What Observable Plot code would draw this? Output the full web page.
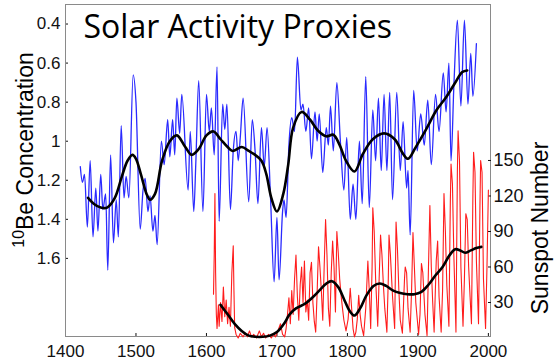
<!DOCTYPE html>
<html><head><meta charset="utf-8">
<script src="https://cdn.jsdelivr.net/npm/d3@7"></script>
<script src="https://cdn.jsdelivr.net/npm/@observablehq/plot@0.6"></script>
<style>
body{margin:0;background:#fff}
#wrap{position:relative;width:557px;height:360px;background:#fff}
#wrap svg{position:absolute;left:0;top:0}
</style></head><body><div id="wrap"></div>
<script>
// ---- data ----
const title = "Solar Activity Proxies";
const xTicks = [1400, 1500, 1600, 1700, 1800, 1900, 2000];
const beTicks = [0.4, 0.6, 0.8, 1, 1.2, 1.4, 1.6];
const ssTicks = [30, 60, 90, 120, 150];

const beYears = [1421,1424,1427,1431,1435,1439,1443,1446,1450,1453,1457,1460,1464,1468,1472,1475,1479,1483,1486,1490,1496,1500,1506,1510,1513,1517,1520,1524,1527,1530,1536,1540,1545,1548,1552,1555,1558,1562,1565,1574,1577,1582,1585,1589,1595,1600,1604,1607,1611,1615,1618,1623,1626,1629,1634,1638,1642,1645,1648,1652,1660,1665,1669,1673,1678,1682,1686,1691,1696,1700,1703,1708,1710,1713,1717,1721,1725,1729,1734,1737,1741,1745,1749,1754,1757,1760,1765,1770,1773,1776,1780,1785,1790,1795,1799,1804,1808,1812,1817,1821,1826,1831,1836,1840,1844,1848,1852,1856,1860,1864,1870,1875,1879,1884,1886,1889,1894,1899,1904,1909,1914,1919,1925,1930,1936,1940,1944,1947,1951,1956,1961,1966,1971,1975,1978,1983];
const beValues = [1.13,1.21,1.17,1.44,1.10,1.49,1.24,1.46,1.17,1.35,1.27,1.66,1.07,1.52,1.30,1.49,0.92,1.29,1.18,1.29,0.66,0.80,1.45,1.25,1.19,1.36,1.28,1.46,1.38,1.53,1.00,1.12,0.89,1.08,0.89,1.07,0.78,0.96,0.76,1.25,0.95,1.36,1.10,0.69,1.36,0.76,0.95,0.83,1.07,0.62,1.41,0.81,0.94,0.81,1.35,1.05,0.95,1.10,0.98,0.78,1.31,0.89,1.05,1.32,0.93,1.13,0.93,1.30,1.72,1.39,1.71,1.36,1.30,1.39,1.02,0.88,0.95,0.57,0.84,0.81,0.95,0.83,1.09,0.85,1.00,0.86,1.16,0.93,1.02,0.82,1.05,0.70,1.00,1.25,0.98,1.40,1.22,1.40,1.00,1.32,0.67,1.34,0.84,1.10,0.78,1.15,0.76,1.15,0.75,1.30,0.75,1.15,0.90,1.24,1.15,1.48,0.74,1.05,0.86,1.02,0.79,1.12,0.76,0.95,0.65,0.85,0.60,1.10,0.72,0.38,0.82,0.38,0.81,0.55,0.77,0.50];

const beSmoothYears = [1432,1440,1450,1459,1470,1480,1488,1495,1500,1507,1515,1520,1527,1537,1548,1558,1570,1579,1589,1600,1610,1620,1630,1637,1650,1660,1667,1678,1685,1692,1700,1709,1716,1723,1735,1747,1758,1770,1780,1789,1798,1810,1822,1836,1852,1867,1879,1886,1897,1912,1926,1940,1952,1963,1970];
const beSmoothValues = [1.29,1.32,1.34,1.34,1.29,1.18,1.10,1.07,1.09,1.17,1.27,1.30,1.27,1.10,1.00,0.97,1.03,1.07,1.04,0.97,0.95,0.99,1.03,1.05,1.03,1.05,1.065,1.10,1.17,1.29,1.36,1.27,1.12,0.93,0.85,0.89,0.945,0.975,0.967,1.02,1.10,1.155,1.065,0.99,0.96,0.99,1.065,1.09,1.03,0.937,0.843,0.775,0.706,0.646,0.638];

const ssYears = [1610,1611,1612,1613,1614,1615,1617,1618,1620,1622,1624,1626,1628,1630,1632,1634,1636,1638,1639,1640,1642,1645,1648,1652,1655,1658,1661,1664,1667,1671,1675,1678,1681,1684,1688,1692,1695,1698,1702,1705,1708,1711,1713,1715,1717,1719,1721,1723,1725,1727,1729,1731,1733,1735,1737,1739,1741,1743,1745,1747,1749,1751,1753,1755,1757,1759,1761,1763,1765,1767,1769,1771,1773,1775,1777,1779,1781,1783,1785,1787,1789,1791,1793,1795,1798,1801,1804,1806,1808,1810,1812,1814,1816,1818,1820,1823,1826,1829,1831,1833,1835,1836,1838,1840,1843,1845,1847,1849,1851,1853,1856,1858,1859,1861,1864,1867,1869,1871,1873,1875,1878,1881,1882,1884,1886,1889,1891,1893,1895,1897,1901,1903,1905,1907,1910,1913,1915,1917,1919,1921,1923,1926,1928,1930,1933,1935,1937,1939,1941,1944,1946,1947,1949,1951,1954,1956,1957,1959,1961,1964,1966,1968,1970,1972,1974,1976,1978,1979,1981,1983,1986,1988,1989,1991,1993,1996,1998,2000];
const ssValues = [37,70,122,55,20,8,28,10,30,14,43,18,32,12,26,10,55,78,40,9,3,0,4,1,4,1,6,1,3,0,6,1,4,0,3,0,3,1,7,12,3,1,8,20,34,12,40,20,50,70,35,15,45,60,30,65,22,32,15,55,64,30,14,5,38,77,60,40,15,60,100,70,25,10,55,82,60,22,90,72,50,36,25,15,6,16,42,25,8,1,5,16,36,20,10,2,25,65,40,8,60,110,90,50,10,50,87,70,45,25,5,50,87,70,35,8,98,75,40,15,4,50,60,55,25,5,40,89,60,30,3,20,63,55,20,2,60,112,60,30,5,65,82,35,5,40,122,90,45,10,115,147,130,70,5,140,175,150,60,10,50,105,100,60,35,12,120,157,140,65,12,110,150,140,50,8,60,125];

const ssSmoothYears = [1620,1630,1640,1650,1660,1670,1680,1690,1700,1710,1718,1727,1740,1750,1760,1770,1778,1787,1795,1803,1810,1818,1827,1837,1846,1855,1865,1875,1885,1895,1905,1915,1925,1935,1945,1953,1960,1967,1975,1983,1990];
const ssSmoothValues = [28,20,12,6,2,1,1,2,5,12,20,25,29,34,40,46,48,43,33,23,19,25,36,44,46,44,40,38,37,37,39,45,53,60,70,75,74,72,74,76,77];

// ---- tables ----
const be = beYears.map((y, i) => ({year: y, value: beValues[i]}));
const beSmooth = beSmoothYears.map((y, i) => ({year: y, value: beSmoothValues[i]}));
const ss = ssYears.map((y, i) => ({year: y, value: ssValues[i]}));
const ssSmooth = ssSmoothYears.map((y, i) => ({year: y, value: ssSmoothValues[i]}));

const W = 557, H = 360, mL = 65, mR = 67, mT = 4, mB = 24;
const xDomain = [1400, 2003];
const font = "'Liberation Sans', Arial, Helvetica, sans-serif";

const p1 = Plot.plot({
  width: W, height: H, marginLeft: mL, marginRight: mR, marginTop: mT, marginBottom: mB,
  style: {fontFamily: font, fontSize: "17px", color: "#111", background: "white", overflow: "visible"},
  x: {domain: xDomain, ticks: xTicks, tickFormat: d => String(d), tickSize: -3, tickPadding: 11, label: null},
  y: {domain: [2.0, 0.3], ticks: beTicks, tickFormat: d => String(d), tickSize: -3, tickPadding: 8, label: null},
  marks: [
    Plot.frame({stroke: "#8a8a8a", strokeWidth: 1}),
    Plot.line(be, {x: "year", y: "value", stroke: "#2a2aff", strokeWidth: 1.3, curve: "monotone-x"}),
    Plot.line(beSmooth, {x: "year", y: "value", stroke: "#000", strokeWidth: 2.6, curve: "catmull-rom"}),
    Plot.text([title], {frameAnchor: "top-left", dx: 18, dy: 33, lineAnchor: "bottom", textAnchor: "start",
      fontSize: 32, fontFamily: "'Open Sans', sans-serif", fill: "#000"})
  ]
});

const p2 = Plot.plot({
  width: W, height: H, marginLeft: mL, marginRight: mR, marginTop: mT, marginBottom: mB,
  style: {fontFamily: font, fontSize: "18px", color: "#111", background: "transparent", overflow: "visible"},
  x: {domain: xDomain, axis: null},
  y: {domain: [1.27, 281.8], ticks: ssTicks, axis: "right", tickSize: -3, tickPadding: 6, label: null},
  marks: [
    Plot.line(ss, {x: "year", y: "value", stroke: "#ff1c1c", strokeWidth: 1.1}),
    Plot.line(ssSmooth, {x: "year", y: "value", stroke: "#000", strokeWidth: 2.6, curve: "catmull-rom"})
  ]
});

const wrap = document.getElementById("wrap");
wrap.appendChild(p1);
wrap.appendChild(p2);

// axis titles
const s1 = d3.select(p1);
const lab = s1.append("text")
  .attr("transform", "translate(33,150) rotate(-90)")
  .attr("text-anchor", "middle")
  .attr("font-family", font)
  .attr("font-size", 23)
  .attr("fill", "#000");
lab.append("tspan").attr("font-size", 16).attr("dy", -9).text("10");
lab.append("tspan").attr("dy", 9).text("Be Concentration");

const s2 = d3.select(p2);
s2.append("text")
  .attr("transform", "translate(548,228) rotate(-90)")
  .attr("text-anchor", "middle")
  .attr("font-family", font)
  .attr("font-size", 23)
  .attr("fill", "#000")
  .text("Sunspot Number");
</script></body></html>
